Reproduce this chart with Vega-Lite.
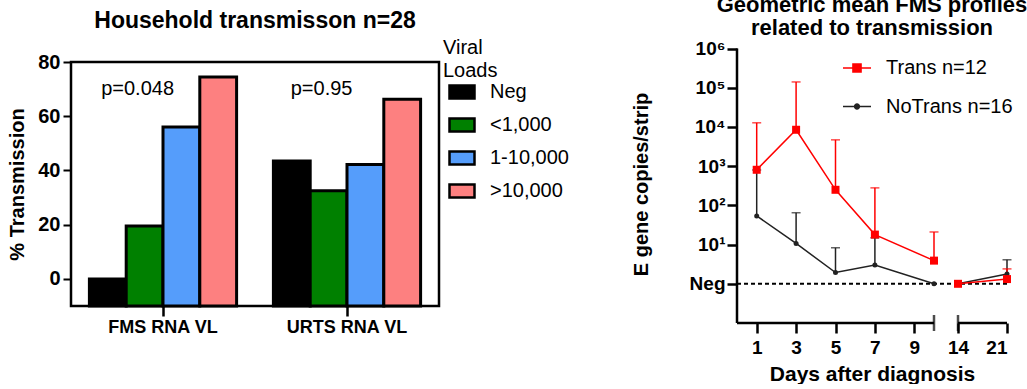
{
  "$schema": "https://vega.github.io/schema/vega-lite/v6.json",
  "padding": {"left": 6, "top": -7, "right": 0, "bottom": 0},
  "spacing": 298,
  "bounds": "flush",
  "center": true,
  "resolve": {"scale": {"color": "independent", "fill": "independent"}, "legend": {"color": "independent", "fill": "independent"}},
  "config": {
    "font": "Liberation Sans",
    "view": {"stroke": null},
    "axis": {"grid": false, "domainColor": "black", "tickColor": "black", "labelColor": "black", "titleColor": "black"},
    "legend": {"labelColor": "black", "titleColor": "black"}
  },
  "hconcat": [
    {
      "title": {"text": "Household transmisson n=28", "fontSize": 23, "fontWeight": "bold", "anchor": "middle", "frame": "group", "baseline": "bottom", "offset": -18, "color": "black"},
      "width": 368,
      "height": 244,
      "view": {"stroke": "black", "strokeWidth": 2.5},
      "data": {"values": [
        {"group": "FMS RNA VL", "vl": "Neg", "pct": 0},
        {"group": "FMS RNA VL", "vl": "<1,000", "pct": 19.5},
        {"group": "FMS RNA VL", "vl": "1-10,000", "pct": 56},
        {"group": "FMS RNA VL", "vl": ">10,000", "pct": 74.5},
        {"group": "URTS RNA VL", "vl": "Neg", "pct": 43.5},
        {"group": "URTS RNA VL", "vl": "<1,000", "pct": 32.5},
        {"group": "URTS RNA VL", "vl": "1-10,000", "pct": 42.2},
        {"group": "URTS RNA VL", "vl": ">10,000", "pct": 66.3}
      ]},
      "layer": [
        {
          "mark": {"type": "bar", "stroke": "black", "strokeWidth": 3},
          "encoding": {
            "x": {"field": "group", "type": "nominal", "sort": ["FMS RNA VL", "URTS RNA VL"],
                  "scale": {"paddingInner": 0.2, "paddingOuter": 0.1},
                  "axis": {"title": null, "labelAngle": 0, "domain": false, "tickSize": 10, "tickWidth": 2.5, "labelFontSize": 18, "labelFontWeight": "bold", "labelPadding": 2}},
            "xOffset": {"field": "vl", "type": "nominal", "sort": ["Neg", "<1,000", "1-10,000", ">10,000"], "scale": {"domain": ["Neg", "<1,000", "1-10,000", ">10,000"], "paddingInner": 0, "paddingOuter": 0}},
            "y": {"field": "pct", "type": "quantitative",
                  "scale": {"domain": [-10, 80], "nice": false, "zero": false},
                  "axis": {"values": [0, 20, 40, 60, 80], "domain": false, "tickSize": 8, "tickWidth": 2, "labelFontSize": 20, "labelFontWeight": "bold", "labelPadding": 3, "title": "% Transmission", "titleFontSize": 20, "titleFontWeight": "bold", "titlePadding": 10}},
            "y2": {"datum": -10},
            "fill": {"field": "vl", "type": "nominal",
                     "scale": {"domain": ["Neg", "<1,000", "1-10,000", ">10,000"], "range": ["#000000", "#008000", "#559dfb", "#fd8080"]},
                     "legend": {"title": ["Viral", "Loads"], "orient": "none", "legendX": 372, "legendY": -24, "padding": 0,
                                "titleFontSize": 20, "titleFontWeight": "normal", "titleLineHeight": 23, "titlePadding": -3,
                                "labelFontSize": 20, "labelOffset": 14, "rowPadding": 7,
                                "symbolType": "M-1,-0.52H1V0.52H-1Z", "symbolSize": 625, "symbolStrokeColor": "black", "symbolStrokeWidth": 2.5, "symbolOffset": 5}}
          }
        },
        {
          "data": {"values": [
            {"group": "FMS RNA VL", "vl": "<1,000", "ty": 70, "label": "p=0.048"},
            {"group": "URTS RNA VL", "vl": "<1,000", "ty": 70, "label": "p=0.95"}
          ]},
          "mark": {"type": "text", "fontSize": 20, "dx": -7, "color": "black"},
          "encoding": {
            "x": {"field": "group", "type": "nominal", "sort": ["FMS RNA VL", "URTS RNA VL"]},
            "xOffset": {"field": "vl", "type": "nominal", "sort": ["Neg", "<1,000", "1-10,000", ">10,000"]},
            "y": {"field": "ty", "type": "quantitative"},
            "text": {"field": "label"}
          }
        }
      ]
    },
    {
      "title": {"text": ["Geometric mean FMS profiles", "related to transmission"], "fontSize": 22, "lineHeight": 23, "fontWeight": "bold", "anchor": "middle", "frame": "group", "baseline": "bottom", "offset": -22, "color": "black"},
      "width": 270,
      "height": 278,
      "data": {"values": [
        {"series": "NoTrans n=16", "day": 1, "seg": 1, "mean": 54, "upper": 800},
        {"series": "NoTrans n=16", "day": 3, "seg": 1, "mean": 10.7, "upper": 65},
        {"series": "NoTrans n=16", "day": 5, "seg": 1, "mean": 1.94, "upper": 8.3},
        {"series": "NoTrans n=16", "day": 7, "seg": 1, "mean": 3.0, "upper": 14.9},
        {"series": "NoTrans n=16", "day": 10, "seg": 1, "mean": 1, "upper": null},
        {"series": "NoTrans n=16", "day": 14, "seg": 2, "mean": 1, "upper": null},
        {"series": "NoTrans n=16", "day": 21, "seg": 2, "mean": 1.77, "upper": 4.1},
        {"series": "Trans n=12", "day": 1, "seg": 1, "mean": 810, "upper": 12800},
        {"series": "Trans n=12", "day": 3, "seg": 1, "mean": 8500, "upper": 141000},
        {"series": "Trans n=12", "day": 5, "seg": 1, "mean": 250, "upper": 4700},
        {"series": "Trans n=12", "day": 7, "seg": 1, "mean": 18, "upper": 280},
        {"series": "Trans n=12", "day": 10, "seg": 1, "mean": 3.9, "upper": 21},
        {"series": "Trans n=12", "day": 14, "seg": 2, "mean": 1, "upper": null},
        {"series": "Trans n=12", "day": 21, "seg": 2, "mean": 1.32, "upper": 2.4}
      ]},
      "layer": [
        {
          "data": {"values": [{"a": 0, "b": 21, "v": 1}]},
          "mark": {"type": "rule", "strokeDash": [4, 3], "strokeWidth": 2, "color": "black"},
          "encoding": {
            "x": {"field": "a", "type": "quantitative"},
            "x2": {"field": "b"},
            "y": {"field": "v", "type": "quantitative"}
          }
        },
        {
          "data": {"values": [{"a": 0, "b": 10, "v": 0.1}, {"a": 14, "b": 21, "v": 0.1}]},
          "mark": {"type": "rule", "strokeWidth": 2.5, "color": "black"},
          "encoding": {
            "x": {"field": "a", "type": "quantitative"},
            "x2": {"field": "b"},
            "y": {"field": "v", "type": "quantitative"}
          }
        },
        {
          "data": {"values": [{"a": 0, "lo": 0.1, "hi": 1000000}]},
          "mark": {"type": "rule", "strokeWidth": 2.5, "color": "black"},
          "encoding": {
            "x": {"field": "a", "type": "quantitative"},
            "y": {"field": "lo", "type": "quantitative"},
            "y2": {"field": "hi"}
          }
        },
        {
          "data": {"values": [{"c": 10, "v": 0.1}, {"c": 14, "v": 0.1}]},
          "mark": {"type": "tick", "orient": "vertical", "size": 16, "thickness": 2.5, "color": "black"},
          "encoding": {
            "x": {"field": "c", "type": "quantitative"},
            "y": {"field": "v", "type": "quantitative"}
          }
        },
        {
          "transform": [{"filter": "datum.upper != null"}],
          "mark": {"type": "rule", "strokeWidth": 1.5},
          "encoding": {
            "x": {"field": "day", "type": "quantitative"},
            "y": {"field": "mean", "type": "quantitative"},
            "y2": {"field": "upper"},
            "color": {"field": "series", "type": "nominal"}
          }
        },
        {
          "transform": [{"filter": "datum.upper != null"}],
          "mark": {"type": "tick", "orient": "horizontal", "size": 9, "thickness": 1.5},
          "encoding": {
            "x": {"field": "day", "type": "quantitative"},
            "y": {"field": "upper", "type": "quantitative"},
            "color": {"field": "series", "type": "nominal"}
          }
        },
        {
          "mark": {"type": "line", "strokeWidth": 1.5},
          "encoding": {
            "x": {"field": "day", "type": "quantitative",
                  "scale": {"domain": [0, 10, 14, 21], "range": [0, 197, 221, 270], "nice": false, "zero": false},
                  "axis": {"values": [1, 3, 5, 7, 9, 14, 21], "domain": false, "tickSize": 10, "tickWidth": 2.5, "labelFontSize": 19, "labelFontWeight": "bold", "labelPadding": 5, "title": "Days after diagnosis", "titleFontSize": 21, "titleFontWeight": "bold", "titlePadding": 6}},
            "y": {"field": "mean", "type": "quantitative",
                  "scale": {"type": "log", "domain": [0.1, 1235000], "nice": false},
                  "axis": {"values": [1, 10, 100, 1000, 10000, 100000, 1000000], "labelExpr": "datum.value == 1 ? 'Neg' : '10' + ['⁰','¹','²','³','⁴','⁵','⁶'][round(log(datum.value)/LN10)]", "domain": false, "tickSize": 10, "tickWidth": 2.5, "labelFontSize": 19, "labelFontWeight": "bold", "labelPadding": 2, "title": "E gene copies/strip", "titleFontSize": 20, "titleFontWeight": "bold", "titlePadding": 38}},
            "detail": {"field": "seg"},
            "color": {"field": "series", "type": "nominal",
                      "scale": {"domain": ["Trans n=12", "NoTrans n=16"], "range": ["#ff0000", "#222222"]},
                      "legend": {"title": null, "orient": "none", "legendX": 105, "legendY": 8, "padding": 0,
                                 "labelFontSize": 20, "labelOffset": 14, "rowPadding": 13.5,
                                 "symbolSize": 784, "symbolStrokeWidth": 1.5,
                                 "encode": {"symbols": {"update": {
                                   "shape": {"signal": "datum.value == 'Trans n=12' ? 'M-1,0L1,0M-0.29,-0.29L0.29,-0.29L0.29,0.29L-0.29,0.29Z' : 'M-1,0L1,0M0.17,0A0.17,0.17 0 1 1 -0.17,0A0.17,0.17 0 1 1 0.17,0Z'"},
                                   "fill": {"signal": "datum.value == 'Trans n=12' ? '#ff0000' : '#222222'"},
                                   "stroke": {"signal": "datum.value == 'Trans n=12' ? '#ff0000' : '#222222'"},
                                   "opacity": {"value": 1}
                                 }}}}}
          }
        },
        {
          "mark": {"type": "point", "filled": true, "opacity": 1},
          "encoding": {
            "x": {"field": "day", "type": "quantitative"},
            "y": {"field": "mean", "type": "quantitative"},
            "color": {"field": "series", "type": "nominal"},
            "shape": {"field": "series", "type": "nominal", "scale": {"domain": ["Trans n=12", "NoTrans n=16"], "range": ["square", "circle"]}, "legend": null},
            "size": {"field": "series", "type": "nominal", "scale": {"domain": ["Trans n=12", "NoTrans n=16"], "range": [64, 25]}, "legend": null}
          }
        }
      ]
    }
  ]
}
